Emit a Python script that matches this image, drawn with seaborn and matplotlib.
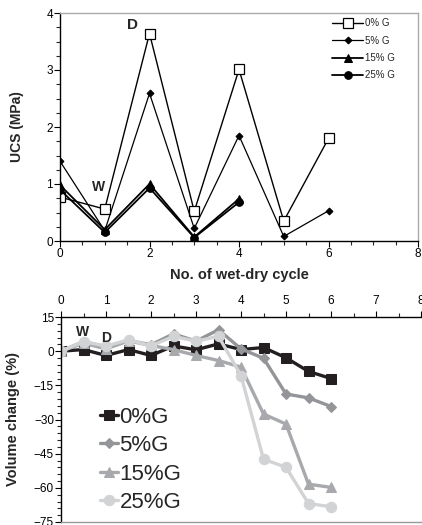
import numpy as np
import pandas as pd
import matplotlib
matplotlib.use("Agg")
import matplotlib.pyplot as plt
import seaborn as sns
from matplotlib.ticker import MultipleLocator

# ---- data: UCS (top) ----
ucs_cycles_0 = [0, 1, 2, 3, 4, 5, 6]
ucs_0 = [0.77, 0.56, 3.64, 0.52, 3.01, 0.35, 1.80]
ucs_cycles_5 = [0, 1, 2, 3, 4, 5, 6]
ucs_5 = [1.40, 0.18, 2.59, 0.22, 1.85, 0.08, 0.53]
ucs_cycles_15 = [0, 1, 2, 3, 4]
ucs_15 = [0.98, 0.20, 1.00, 0.07, 0.74]
ucs_cycles_25 = [0, 1, 2, 3, 4]
ucs_25 = [0.90, 0.15, 0.93, 0.06, 0.68]
ucs_labels = ["0% G", "5% G", "15% G", "25% G"]

# ---- data: volume change (bottom) ----
vol_cycles = [0, 0.5, 1, 1.5, 2, 2.5, 3, 3.5, 4, 4.5, 5, 5.5, 6]
vol_0 = [0, 0.7, -1.9, 0.7, -1.9, 2.3, 0.6, 3.2, 0.7, 1.6, -2.9, -8.9, -12.0]
vol_5 = [0, 4.2, 1.9, 4.7, 2.8, 7.6, 4.4, 9.4, 1.0, -3.1, -18.8, -20.5, -24.3]
vol_15 = [0, 3.5, 1.0, 4.5, 2.5, 0.7, -1.9, -4.1, -7.0, -27.6, -32.0, -58.4, -59.8]
vol_25 = [0, 4.2, 2.2, 5.0, 2.3, 6.5, 4.4, 6.5, -10.7, -47.4, -51.0, -66.9, -68.3]
vol_labels = ["0%G", "5%G", "15%G", "25%G"]

sns.set_style("ticks")
plt.rcParams['font.family'] = ['Liberation Sans', 'DejaVu Sans']
plt.rcParams['xtick.direction'] = 'out'
plt.rcParams['ytick.direction'] = 'out'

fig = plt.figure(figsize=(4.22, 5.25), dpi=100)
ax1 = fig.add_axes([60/422, 1-241/525, (418-60)/422, (241-13)/525])
ax2 = fig.add_axes([61/422, 1-522/525, (421-61)/422, (522-317)/525])

# ---- top chart ----
top_styles = [
    (ucs_cycles_0, ucs_0, dict(marker='s', markersize=6.5, markerfacecolor='white', markeredgecolor='black', markeredgewidth=0.9, linewidth=1.0)),
    (ucs_cycles_5, ucs_5, dict(marker='D', markersize=3.5, markerfacecolor='black', markeredgecolor='black', linewidth=0.9)),
    (ucs_cycles_15, ucs_15, dict(marker='^', markersize=6, markerfacecolor='black', markeredgecolor='black', linewidth=1.3)),
    (ucs_cycles_25, ucs_25, dict(marker='o', markersize=5.5, markerfacecolor='black', markeredgecolor='black', linewidth=1.3)),
]
for (xs, ys, st), lab in zip(top_styles, ucs_labels):
    df = pd.DataFrame({"cycle": xs, "ucs": ys})
    sns.lineplot(data=df, x="cycle", y="ucs", ax=ax1, color='black', label=lab, **st)

ax1.set_xlim(0, 8)
ax1.set_ylim(0, 4)
ax1.xaxis.set_major_locator(MultipleLocator(2))
ax1.xaxis.set_minor_locator(MultipleLocator(0.5))
ax1.yaxis.set_major_locator(MultipleLocator(1))
ax1.yaxis.set_minor_locator(MultipleLocator(0.25))
ax1.tick_params(axis='both', which='major', labelsize=8.5, length=4, width=0.8, pad=1, colors='black')
ax1.tick_params(axis='both', which='minor', length=3, width=0.8)
ax1.set_xlabel("No. of wet-dry cycle", fontsize=10.5, fontweight='bold', labelpad=6)
ax1.set_ylabel("UCS (MPa)", fontsize=10, fontweight='bold', labelpad=16)
for s in ['left', 'bottom']:
    ax1.spines[s].set_color('black')
    ax1.spines[s].set_linewidth(1.0)
for s in ['top', 'right']:
    ax1.spines[s].set_visible(True)
    ax1.spines[s].set_color('#aaaaaa')
    ax1.spines[s].set_linewidth(1.0)
ax1.text(1.5, 3.72, "D", fontsize=11, fontweight='bold')
ax1.text(0.72, 0.88, "W", fontsize=10, fontweight='bold')
leg1 = ax1.legend(loc='upper right', bbox_to_anchor=(0.96, 1.015), frameon=False,
                  fontsize=7, handlelength=3.2, handletextpad=0.2, labelspacing=0.75)

# ---- bottom chart ----
bot_styles = [
    (vol_0, dict(color='#231f20', marker='s', markersize=7.5, linewidth=2.4)),
    (vol_5, dict(color='#939598', marker='D', markersize=5.5, linewidth=2.4)),
    (vol_15, dict(color='#a7a9ac', marker='^', markersize=7.5, linewidth=2.4)),
    (vol_25, dict(color='#d1d3d4', marker='o', markersize=7.5, linewidth=2.4)),
]
for (ys, st), lab in zip(bot_styles, vol_labels):
    df = pd.DataFrame({"cycle": vol_cycles, "vol": ys})
    sns.lineplot(data=df, x="cycle", y="vol", ax=ax2, label=lab, markeredgecolor=st['color'], **st)

ax2.set_xlim(0, 8)
ax2.set_ylim(-75, 15)
ax2.xaxis.tick_top()
ax2.xaxis.set_major_locator(MultipleLocator(1))
ax2.xaxis.set_minor_locator(MultipleLocator(0.5))
ax2.yaxis.set_major_locator(MultipleLocator(15))
ax2.yaxis.set_minor_locator(MultipleLocator(3))
ax2.tick_params(axis='both', which='major', labelsize=8.5, length=4, width=0.8, pad=1, colors='black')
ax2.tick_params(axis='both', which='minor', length=3, width=0.8)
ax2.tick_params(axis='x', which='both', top=True, bottom=False, labeltop=True, labelbottom=False, pad=3)
ax2.set_xlabel("")
ax2.set_ylabel("Volume change (%)", fontsize=10.5, fontweight='bold', labelpad=10)
for s in ['left', 'top']:
    ax2.spines[s].set_visible(True)
    ax2.spines[s].set_color('black')
    ax2.spines[s].set_linewidth(1.0)
ax2.spines['bottom'].set_color('#999999')
ax2.spines['bottom'].set_linewidth(1.0)
ax2.spines['right'].set_visible(False)
ax2.text(0.33, 6.5, "W", fontsize=10, fontweight='bold')
ax2.text(0.9, 4.0, "D", fontsize=10, fontweight='bold')
leg2 = ax2.legend(loc='upper left', bbox_to_anchor=(0.085, 0.605), frameon=False,
                  fontsize=16, handlelength=0.8, handletextpad=0.05, labelspacing=0.33,
                  borderaxespad=0)

fig.savefig("out.png", dpi=100)
